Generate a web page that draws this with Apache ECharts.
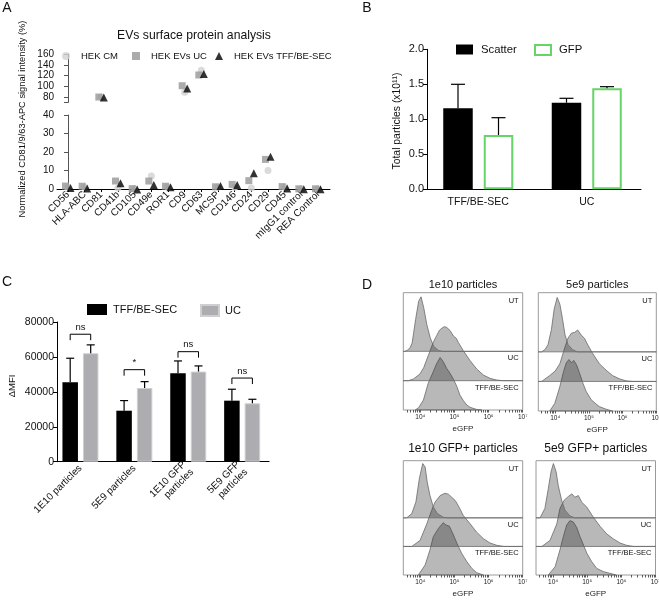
<!DOCTYPE html>
<html><head><meta charset="utf-8">
<script src="https://cdn.jsdelivr.net/npm/echarts@6/dist/echarts.min.js"></script>
<style>html,body{margin:0;padding:0;background:#fff}#c{width:659px;height:600px}</style>
</head><body><div id="c"></div>
<script>
const FONT = "'Liberation Sans', Arial, Helvetica, sans-serif";

// ---------- Panel A data ----------
const markersA = ['CD56','HLA-ABC','CD81','CD41b','CD105','CD49e','ROR1','CD9','CD63','MCSP','CD146','CD24','CD29','CD45','mIgG1 control','REA Control'];
const hekCM  = [1.0, 1.0, 80, 0.5, 0.3, 7.0, 1.0, 89, 130, 1.0, 1.0, 0.5, 10.0, 1.0, 0.2, 0.2];
const hekUC  = [1.6, 1.5, 80, 4.3, 0.2, 4.3, 1.5, 101, 121, 1.2, 2.5, 4.5, 16.0, 1.3, 0.1, 0.1];
const hekTFF = [0.5, 0.3, 79, 3.1, -0.3, 2.2, 1.0, 96, 123, 1.6, 2.2, 8.5, 17.5, 0.3, -0.2, -0.2];
const aUpperLabels = [80, 100, 120, 140, 160];
const aUpperTicks = [70, 80, 100, 120, 140, 160];
const A_BREAK = 50;

// ---------- Panel B data ----------
const bCats = ['TFF/BE-SEC', 'UC'];
const bScatter = [1.157, 1.237];
const bScatterErr = [1.50, 1.30];
const bGFP = [0.776, 1.443];
const bGFPErr = [1.023, 1.466];

// ---------- Panel C data ----------
const cCats = ['1E10 particles', '5E9 particles', '1E10 GFP\nparticles', '5E9 GFP\nparticles'];
const cTFF = [45500, 29200, 50650, 34950];
const cTFFErr = [59250, 35000, 57700, 41500];
const cUC = [62100, 42200, 51600, 33450];
const cUCErr = [66900, 45850, 54850, 35750];
const cSigLabel = ['ns', '*', 'ns', 'ns'];
const cSigLevel = [73000, 52700, 63000, 47900];

// ---------- Panel D data: [log10(eGFP), count (row units)] ----------
const d1UT  = [[3.55,0],[3.62,0.04],[3.70,0.12],[3.76,0.29],[3.86,1.08],[3.95,1.71],[4.02,1.86],[4.10,1.48],[4.19,0.91],[4.29,0.46],[4.39,0.17],[4.53,0.03],[4.65,0]];
const d1UC  = [[3.65,0],[3.80,0.06],[3.99,0.23],[4.10,0.45],[4.23,0.85],[4.38,1.31],[4.48,1.54],[4.56,1.72],[4.63,1.79],[4.70,1.84],[4.77,1.82],[4.87,1.71],[4.97,1.52],[5.05,1.45],[5.11,1.31],[5.26,1.02],[5.46,0.68],[5.65,0.40],[5.85,0.19],[6.04,0.08],[6.24,0.02],[6.43,0]];
const d1TFF = [[3.85,0],[3.95,0.08],[4.09,0.34],[4.23,0.91],[4.38,1.31],[4.48,1.59],[4.58,1.79],[4.67,1.65],[4.77,1.42],[4.87,1.25],[4.97,1.05],[5.07,0.80],[5.16,0.51],[5.26,0.32],[5.36,0.17],[5.46,0.09],[5.65,0.02],[5.80,0]];
const d2UT  = [[3.60,0],[3.70,0.08],[3.79,0.25],[3.89,0.76],[3.97,1.44],[4.06,1.84],[4.14,1.61],[4.22,1.10],[4.29,0.59],[4.38,0.25],[4.51,0.08],[4.65,0]];
const d2UC  = [[3.60,0],[3.84,0.20],[4.00,0.35],[4.14,0.60],[4.28,1.12],[4.38,1.46],[4.48,1.63],[4.58,1.66],[4.67,1.74],[4.77,1.57],[4.87,1.46],[4.97,1.23],[5.11,0.95],[5.31,0.60],[5.51,0.38],[5.70,0.20],[5.90,0.09],[6.10,0.02],[6.30,0]];
const d2TFF = [[3.84,0],[3.99,0.26],[4.14,0.83],[4.25,1.34],[4.33,1.63],[4.41,1.74],[4.48,1.63],[4.55,1.71],[4.63,1.57],[4.72,1.29],[4.82,0.95],[4.92,0.66],[5.07,0.38],[5.21,0.24],[5.31,0.15],[5.51,0.06],[5.70,0]];
const d3UT  = [[3.60,0],[3.75,0.15],[3.87,0.56],[3.97,1.37],[4.07,1.90],[4.14,1.78],[4.20,1.26],[4.28,0.79],[4.38,0.38],[4.50,0.15],[4.67,0.02],[4.80,0]];
const d3UC  = [[3.75,0],[3.99,0.21],[4.19,0.79],[4.33,1.26],[4.43,1.55],[4.58,1.78],[4.72,1.86],[4.82,1.83],[4.92,1.72],[5.02,1.61],[5.11,1.43],[5.26,1.08],[5.46,0.79],[5.65,0.50],[5.85,0.27],[6.04,0.12],[6.24,0.04],[6.45,0]];
const d3TFF = [[3.94,0],[4.14,0.35],[4.28,0.87],[4.38,1.34],[4.53,1.63],[4.67,1.83],[4.75,1.75],[4.85,1.71],[4.97,1.40],[5.07,1.11],[5.21,0.76],[5.36,0.47],[5.51,0.23],[5.65,0.08],[5.85,0]];
const d4UT  = [[3.62,0],[3.76,0.33],[3.86,1.02],[3.94,1.61],[4.01,1.90],[4.09,1.61],[4.15,1.14],[4.25,0.62],[4.35,0.27],[4.49,0.07],[4.63,0]];
const d4UC  = [[3.67,0],[3.91,0.21],[4.11,0.79],[4.20,1.32],[4.32,1.61],[4.45,1.75],[4.55,1.84],[4.64,1.72],[4.74,1.78],[4.84,1.55],[4.99,1.37],[5.18,1.02],[5.38,0.70],[5.57,0.44],[5.77,0.26],[5.96,0.12],[6.15,0.04],[6.35,0]];
const d4TFF = [[3.86,0],[4.06,0.29],[4.20,0.87],[4.30,1.34],[4.40,1.75],[4.49,1.90],[4.59,1.86],[4.69,1.67],[4.79,1.34],[4.89,1.05],[4.99,0.76],[5.13,0.47],[5.28,0.23],[5.47,0.12],[5.66,0.06],[5.85,0]];
const dTitles = ['1e10 particles', '5e9 particles', '1e10 GFP+ particles', '5e9 GFP+ particles'];
const dRowLabels = ['UT', 'UC', 'TFF/BE-SEC'];
const dMajor = [4, 5, 6, 7];

// ---------- layout / style constants ----------
const dGrids = [
  {left: 403.3, top: 292.7, width: 119.4, height: 117.3},
  {left: 538.3, top: 292.7, width: 118.0, height: 118.3},
  {left: 403.3, top: 460.7, width: 119.4, height: 114.3},
  {left: 536.0, top: 460.7, width: 119.5, height: 114.3}
];
const D_XMIN = 3.5, D_XMAX = 7;
const B_BAR = 29.5, B_GAP = 11, B_OFF = (B_BAR + B_GAP) / 2;
const C_BAR = 15.5, C_GAP = 5, C_OFF = (C_BAR + C_GAP) / 2;
const SUP = {4: '\u2074', 5: '\u2075', 6: '\u2076', 7: '\u2077'};
const dTicks = [];
for (let n = 3; n < 7; n++) for (let k = 1; k < 10; k++) {
  const v = n + Math.log10(k);
  if (v >= D_XMIN && v <= D_XMAX) dTicks.push(+v.toFixed(4));
}
dTicks.push(7);

const chart = echarts.init(document.getElementById('c'), null, {renderer: 'canvas'});

// ---------- builders ----------
function aSeries(name, values, symbol, color, size, dx, z) {
  const up = [], low = [];
  values.forEach((v, i) => (v >= A_BREAK ? up : low).push([i, v]));
  const base = {type: 'scatter', name, symbol, symbolSize: size, symbolOffset: [dx, 0],
    itemStyle: {color}, clip: false, z, silent: true};
  return [Object.assign({}, base, {xAxisIndex: 0, yAxisIndex: 0, data: up}),
          Object.assign({}, base, {xAxisIndex: 1, yAxisIndex: 1, data: low})];
}
function errSeries(gi, means, errs, side, off, capHalf) {
  return {type: 'custom', xAxisIndex: gi, yAxisIndex: gi, z: 6, silent: true,
    data: means.map((m, i) => [i, m, errs[i]]),
    renderItem: (p, api) => {
      const a = api.coord([api.value(0), api.value(1)]);
      const b = api.coord([api.value(0), api.value(2)]);
      const x = a[0] + side * off;
      const st = {stroke: '#000', lineWidth: 1.2};
      return {type: 'group', children: [
        {type: 'line', shape: {x1: x, y1: a[1], x2: x, y2: b[1]}, style: st},
        {type: 'line', shape: {x1: x - capHalf, y1: b[1], x2: x + capHalf, y2: b[1]}, style: st}
      ]};
    }};
}
function histSeries(gi, pts, base, extend) {
  return {type: 'custom', xAxisIndex: gi, yAxisIndex: gi, z: 3, silent: true, data: [0],
    renderItem: (p, api) => {
      const poly = [];
      if (extend) poly.push(api.coord([D_XMIN, base]));
      poly.push(api.coord([pts[0][0], base]));
      pts.forEach(q => poly.push(api.coord([q[0], base + q[1]])));
      poly.push(api.coord([pts[pts.length - 1][0], base]));
      if (extend) poly.push(api.coord([D_XMAX, base]));
      return {type: 'polygon', shape: {points: poly},
        style: {fill: 'rgba(40,40,40,0.33)', stroke: '#6a6a6a', lineWidth: 0.8}};
    }};
}
function txt(text, x, y, size, opts) {
  opts = opts || {};
  return {type: 'text', x, y, rotation: opts.rot || 0, silent: true,
    style: {text, fontSize: size, fontFamily: FONT, fill: opts.color || '#111',
      align: opts.align || 'center', textAlign: opts.align || 'center',
      verticalAlign: opts.valign || 'middle', textVerticalAlign: opts.valign || 'middle',
      fontWeight: opts.weight || 'normal'}};
}

// ---------- grids ----------
const grids = [
  {left: 57, top: 54, width: 273, height: 48.4},
  {left: 57, top: 115, width: 273, height: 74},
  {left: 424, top: 49.3, width: 217, height: 140},
  {left: 53.5, top: 322, width: 215.6, height: 139.7}
].map(g => Object.assign(g, {show: false, containLabel: false, outerBoundsMode: 'none'}));
dGrids.forEach(g => grids.push(Object.assign({}, g, {show: true, borderColor: '#9a9a9a', borderWidth: 1,
  backgroundColor: 'transparent', containLabel: false, outerBoundsMode: 'none'})));

const axLine = {lineStyle: {color: '#000', width: 1}};
const axTick = {length: 4, lineStyle: {color: '#000', width: 1}};

const xAxes = [
  {gridIndex: 0, type: 'value', min: -0.66, max: 15.72, show: false},
  {gridIndex: 1, type: 'value', min: -0.66, max: 15.72, splitLine: {show: false},
    axisLine: {onZero: true, lineStyle: {color: '#000', width: 1}},
    axisTick: {customValues: markersA.map((m, i) => i), length: 3, lineStyle: {color: '#000'}},
    axisLabel: {customValues: markersA.map((m, i) => i), formatter: v => markersA[Math.round(v)],
      rotate: 45, fontSize: 10, color: '#111', fontFamily: FONT, margin: 4}},
  {gridIndex: 2, type: 'category', data: bCats, axisLine: axLine, axisTick: {show: false},
    axisLabel: {fontSize: 10.5, color: '#111', fontFamily: FONT, margin: 7}},
  {gridIndex: 3, type: 'category', data: cCats, axisLine: axLine,
    axisTick: {alignWithLabel: true, length: 4, lineStyle: {color: '#000'}},
    axisLabel: {rotate: 45, fontSize: 10, color: '#111', fontFamily: FONT, margin: 5, interval: 0, lineHeight: 11}}
];
const yAxes = [
  {gridIndex: 0, type: 'value', min: 70, max: 160, splitLine: {show: false},
    axisLine: {show: true, lineStyle: {color: '#555', width: 1}},
    axisTick: {show: true, customValues: aUpperTicks, length: 4, lineStyle: {color: '#555'}},
    axisLabel: {customValues: aUpperLabels, fontSize: 10, color: '#111', fontFamily: FONT, margin: 3}},
  {gridIndex: 1, type: 'value', min: 0, max: 40, interval: 10, splitLine: {show: false},
    axisLine: {show: true, lineStyle: {color: '#555', width: 1}},
    axisTick: {show: true, length: 4, lineStyle: {color: '#555'}},
    axisLabel: {fontSize: 10, color: '#111', fontFamily: FONT, margin: 3}},
  {gridIndex: 2, type: 'value', min: 0, max: 2, interval: 0.5, offset: -3, splitLine: {show: false},
    axisLine: Object.assign({show: true}, axLine), axisTick: Object.assign({show: true}, axTick),
    axisLabel: {formatter: v => v.toFixed(1), fontSize: 11, color: '#111', fontFamily: FONT, margin: 3}},
  {gridIndex: 3, type: 'value', min: 0, max: 80000, interval: 20000, offset: -3.5, splitLine: {show: false},
    axisLine: Object.assign({show: true}, axLine), axisTick: Object.assign({show: true}, axTick),
    axisLabel: {formatter: v => String(v), fontSize: 10.5, color: '#111', fontFamily: FONT, margin: 3}}
];
dGrids.forEach((g, k) => {
  const gi = 4 + k;
  xAxes.push({gridIndex: gi, type: 'value', min: D_XMIN, max: D_XMAX, splitLine: {show: false},
    axisLine: {show: false},
    axisTick: {show: true, customValues: dTicks, length: 2.5, lineStyle: {color: '#333', width: 0.8}},
    axisLabel: {customValues: dMajor, formatter: v => '10' + SUP[Math.round(v)], fontSize: 6.5,
      color: '#222', fontFamily: FONT, margin: 4},
    name: 'eGFP', nameLocation: 'middle', nameGap: 15,
    nameTextStyle: {fontSize: 8, color: '#222', fontFamily: FONT}});
  yAxes.push({gridIndex: gi, type: 'value', min: 0, max: 4, show: false});
});

// ---------- series ----------
const series = [];
series.push(...aSeries('HEK CM', hekCM, 'circle', '#d2d2d2', 7, 0, 2));
series.push(...aSeries('HEK EVs UC', hekUC, 'rect', '#969696', 7, -2.5, 3));
series.push(...aSeries('HEK EVs TFF/BE-SEC', hekTFF, 'triangle', '#000', 8, 2.5, 4));

series.push({type: 'bar', name: 'Scatter', xAxisIndex: 2, yAxisIndex: 2, data: bScatter, barWidth: B_BAR,
  barGap: (B_GAP / B_BAR * 100).toFixed(1) + '%', itemStyle: {color: '#000'}, silent: true});
series.push({type: 'bar', name: 'GFP', xAxisIndex: 2, yAxisIndex: 2, data: bGFP, barWidth: B_BAR,
  barGap: (B_GAP / B_BAR * 100).toFixed(1) + '%',
  itemStyle: {color: '#fff', borderColor: '#66d466', borderWidth: 2}, silent: true});
series.push(errSeries(2, bScatter, bScatterErr, -1, B_OFF, 7));
series.push(errSeries(2, bGFP, bGFPErr, 1, B_OFF, 7));

series.push({type: 'bar', name: 'TFF/BE-SEC', xAxisIndex: 3, yAxisIndex: 3, data: cTFF, barWidth: C_BAR,
  barGap: (C_GAP / C_BAR * 100).toFixed(1) + '%', itemStyle: {color: '#000'}, silent: true});
series.push({type: 'bar', name: 'UC', xAxisIndex: 3, yAxisIndex: 3, data: cUC, barWidth: C_BAR,
  barGap: (C_GAP / C_BAR * 100).toFixed(1) + '%',
  itemStyle: {color: '#adadb1', borderColor: '#cfcfd2', borderWidth: 1}, silent: true});
series.push(errSeries(3, cTFF, cTFFErr, -1, C_OFF, 4));
series.push(errSeries(3, cUC, cUCErr, 1, C_OFF, 4));
series.push({type: 'custom', xAxisIndex: 3, yAxisIndex: 3, z: 7, silent: true,
  data: cSigLevel.map((v, i) => [i, v]),
  renderItem: (p, api) => {
    const c = api.coord([api.value(0), api.value(1)]);
    const xl = c[0] - C_OFF, xr = c[0] + C_OFF, y = c[1];
    return {type: 'group', children: [
      {type: 'polyline', shape: {points: [[xl, y + 6], [xl, y], [xr, y], [xr, y + 6]]},
        style: {stroke: '#000', lineWidth: 1, fill: null}},
      {type: 'text', x: c[0], y: y - 2,
        style: {text: cSigLabel[p.dataIndex], fontSize: 9.5, fontFamily: FONT, fill: '#111',
          align: 'center', textAlign: 'center', verticalAlign: 'bottom', textVerticalAlign: 'bottom'}}
    ]};
  }});

const dSets = [[d1TFF, d1UC, d1UT], [d2TFF, d2UC, d2UT], [d3TFF, d3UC, d3UT], [d4TFF, d4UC, d4UT]];
dSets.forEach((s, k) => {
  const gi = 4 + k;
  series.push(histSeries(gi, s[0], 0, false));
  series.push(histSeries(gi, s[1], 1, true));
  series.push(histSeries(gi, s[2], 2, true));
});

// ---------- legends ----------
const legTxt = (fs) => ({fontSize: fs, color: '#111', fontFamily: FONT});
const legends = [
  {data: ['HEK CM'], left: 62, top: 51, itemWidth: 8, itemHeight: 8, textStyle: Object.assign(legTxt(9.5), {padding: [0, 0, 0, 6]})},
  {data: ['HEK EVs UC'], left: 132, top: 51, itemWidth: 8, itemHeight: 8, textStyle: Object.assign(legTxt(9.5), {padding: [0, 0, 0, 6]})},
  {data: ['HEK EVs TFF/BE-SEC'], left: 215, top: 51, itemWidth: 8, itemHeight: 8, textStyle: Object.assign(legTxt(9.5), {padding: [0, 0, 0, 6]})},
  {data: ['Scatter'], left: 456, top: 44, icon: 'rect', itemWidth: 17, itemHeight: 10, textStyle: Object.assign(legTxt(11.3), {padding: [0, 0, 0, 3]})},
  {data: ['GFP'], left: 534, top: 44, icon: 'rect', itemWidth: 16, itemHeight: 10, textStyle: Object.assign(legTxt(11.3), {padding: [0, 0, 0, 3]})},
  {data: ['TFF/BE-SEC'], left: 87, top: 304, icon: 'rect', itemWidth: 20, itemHeight: 11, textStyle: Object.assign(legTxt(11), {padding: [0, 0, 0, 1]})},
  {data: ['UC'], left: 200, top: 304, icon: 'rect', itemWidth: 18, itemHeight: 11, textStyle: Object.assign(legTxt(11), {padding: [0, 0, 0, 1]})}
].map(l => Object.assign(l, {orient: 'horizontal', selectedMode: false, padding: 0}));

// ---------- free text ----------
const elements = [
  txt('A', 7, 8, 14), txt('B', 367, 8, 14), txt('C', 7, 282, 14), txt('D', 367, 285, 14),
  txt('EVs surface protein analysis', 194, 36, 12.2),
  txt('Normalized CD81/9/63-APC signal intensity (%)', 22, 119, 9.3, {rot: Math.PI / 2}),
  txt('Total particles (x10\u00b9\u00b9)', 397, 121, 10.4, {rot: Math.PI / 2}),
  txt('\u0394MFI', 12, 386, 9.5, {rot: Math.PI / 2})
];
const dTitleY = [285, 285, 449, 449];
const dTitleSize = [11, 11, 12, 12];
dGrids.forEach((g, k) => {
  elements.push(txt(dTitles[k], g.left + g.width / 2, dTitleY[k], dTitleSize[k]));
  const right = g.left + g.width - 4;
  elements.push(txt(dRowLabels[0], right, g.top + 8, 7.5, {align: 'right'}));
  elements.push(txt(dRowLabels[1], right, g.top + g.height / 2 + 7, 7.5, {align: 'right'}));
  elements.push(txt(dRowLabels[2], right, g.top + g.height * 3 / 4 + 7, 7.5, {align: 'right'}));
});

chart.setOption({
  animation: false,
  backgroundColor: '#fff',
  textStyle: {fontFamily: FONT},
  grid: grids,
  xAxis: xAxes,
  yAxis: yAxes,
  legend: legends,
  series: series,
  graphic: {elements}
});
</script>
</body></html>
